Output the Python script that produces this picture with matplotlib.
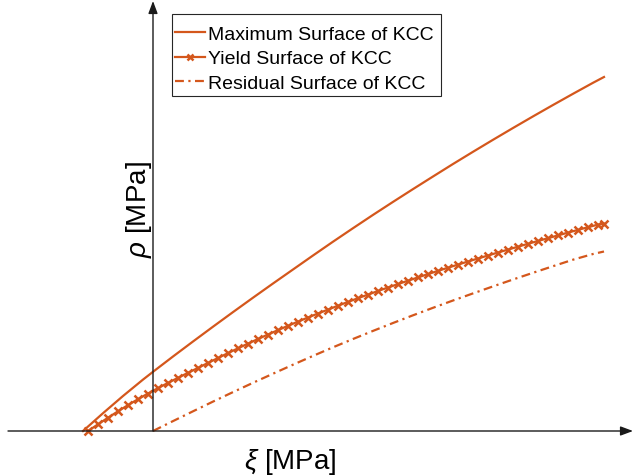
import matplotlib
matplotlib.use("Agg")
import matplotlib.pyplot as plt
from matplotlib.patches import Rectangle

plt.rcParams['font.family'] = ['Liberation Sans', 'DejaVu Sans']
plt.rcParams['mathtext.fontset'] = 'custom'
plt.rcParams['mathtext.it'] = 'Liberation Sans:italic'
plt.rcParams['mathtext.rm'] = 'Liberation Sans'

COLOR = '#D4571C'
W, H = 634, 477

# Maximum surface of KCC
xi_max = [-70, -50, -30, -10, 0, 20, 40, 60, 80, 100, 120, 140, 160, 180, 200,
          220, 240, 260, 280, 300, 320, 340, 360, 380, 400, 420, 440, 451]
rho_max = [0, 17.8, 35.0, 51.4, 59.2, 74.5, 89.5, 104.3, 118.9, 133.3, 147.5,
           161.5, 175.5, 189.3, 202.8, 216.1, 229.1, 241.9, 254.5, 267.0,
           279.2, 291.2, 303.0, 314.6, 326.0, 337.2, 348.2, 354.0]

# Yield surface of KCC
xi_yld = [-65, -55, -45, -35, -25, -15, -5, 5, 15, 25, 35, 45, 55, 65, 75, 85,
          95, 105, 115, 125, 135, 145, 155, 165, 175, 185, 195, 205, 215, 225,
          235, 245, 255, 265, 275, 285, 295, 305, 315, 325, 335, 345, 355, 365,
          375, 385, 395, 405, 415, 425, 435, 445, 451]
rho_yld = [0, 6.7, 13.3, 19.7, 25.9, 31.8, 37.5, 42.9, 48.1, 53.2, 58.2, 63.1,
           68.1, 73.0, 77.9, 82.7, 87.4, 92.0, 96.5, 100.9, 105.2, 109.4, 113.5,
           117.5, 121.4, 125.3, 129.1, 132.8, 136.4, 140.0, 143.5, 146.9, 150.3,
           153.6, 156.9, 160.1, 163.3, 166.4, 169.5, 172.5, 175.5, 178.5, 181.4,
           184.3, 187.2, 190.0, 192.8, 195.6, 198.4, 201.1, 203.8, 206.4, 207.2]

# Residual surface of KCC
xi_res = [0, 20, 40, 60, 80, 100, 120, 140, 160, 180, 200, 220, 240, 260, 280,
          300, 320, 340, 360, 380, 400, 420, 440, 451]
rho_res = [0, 9.9, 19.7, 29.4, 38.9, 48.2, 57.3, 66.3, 75.1, 83.7, 92.0, 100.1,
           108.0, 115.7, 123.2, 130.5, 137.6, 144.6, 151.5, 158.2, 164.8,
           171.3, 177.0, 179.5]

labels = ['Maximum Surface of KCC', 'Yield Surface of KCC', 'Residual Surface of KCC']

fig = plt.figure(figsize=(W / 100, H / 100), dpi=100)
ax = fig.add_axes([0, 0, 1, 1])
ax.set_xlim(-153, 481)
ax.set_ylim(-45, 432)
ax.axis('off')

ax.plot(xi_max, rho_max, color=COLOR, lw=1.6, label=labels[0], zorder=3)
ax.plot(xi_yld, rho_yld, color=COLOR, lw=1.6, marker='x', ms=5.5,
        mew=1.8, label=labels[1], zorder=3)
ax.plot(xi_res, rho_res, color=COLOR, lw=1.6, linestyle=(0, (4, 2, 1, 2)),
        label=labels[2], zorder=3)

# axes drawn as arrows through the origin
arrow = dict(arrowstyle='-|>,head_length=0.75,head_width=0.28', color='#1a1a1a',
             lw=1.0, shrinkA=0, shrinkB=0)
ax.annotate('', xy=(480, 0), xytext=(-145, 0), arrowprops=arrow)
ax.annotate('', xy=(0, 430), xytext=(0, 0), arrowprops=arrow)

ax.text(137, -30, r'$\xi$ [MPa]', fontsize=20, ha='center', va='center')
ax.text(-14, 222, r'$\rho$ [MPa]', fontsize=20, ha='center', va='center',
        rotation=90)

# legend entries without frame, boxed by a plain rectangle
leg = ax.legend(loc='upper left', bbox_to_anchor=(175 / W, 1 - 26 / H),
                bbox_transform=fig.transFigure, fontsize=14, frameon=False,
                handlelength=1.55, handletextpad=0.15, borderaxespad=0,
                borderpad=0, labelspacing=0.37, markerscale=0.8)
fig.patches.append(Rectangle((172 / W, 1 - 97 / H), (441 - 172) / W, 82 / H,
                             transform=fig.transFigure, fill=False,
                             edgecolor='#262626', lw=0.8, zorder=5))

fig.savefig('out.png', dpi=100)
